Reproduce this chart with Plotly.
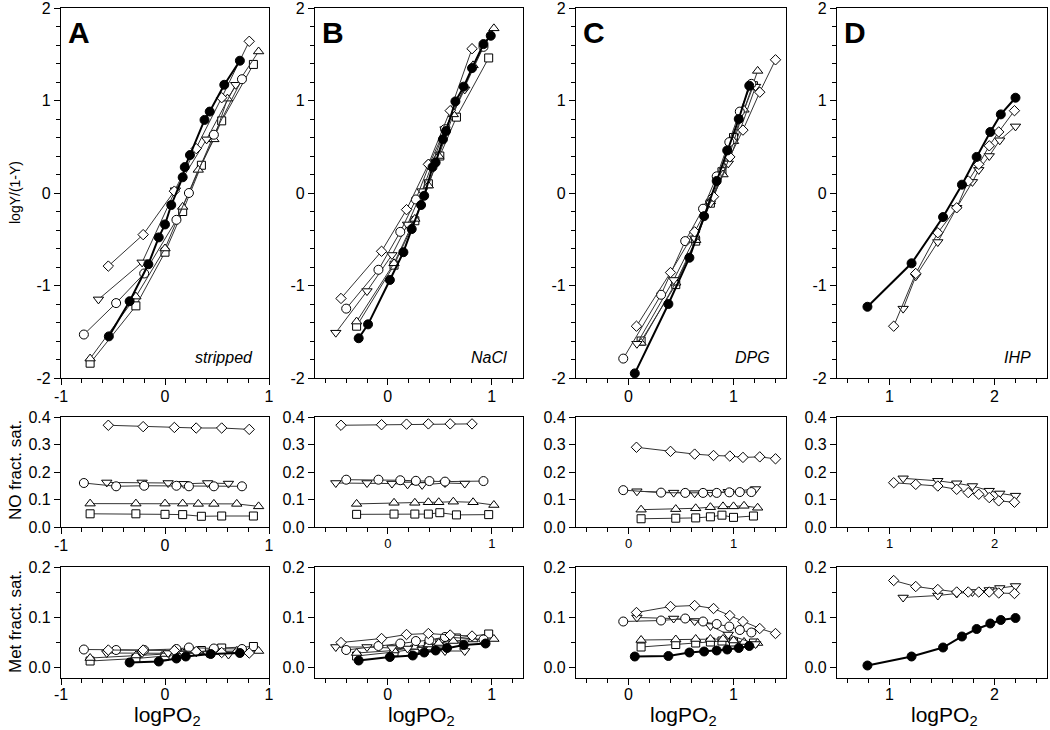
import plotly.graph_objects as go

# ---------------- Panel A (stripped) ----------------
A_FC_HILL_X = [-0.54, -0.34, -0.16, -0.06, 0.0, 0.06, 0.17, 0.19, 0.24, 0.38, 0.43, 0.57, 0.72]
A_FC_HILL_Y = [-1.55, -1.17, -0.77, -0.48, -0.34, -0.13, 0.17, 0.28, 0.41, 0.79, 0.88, 1.17, 1.43]
A_FC_MET_X = [-0.34, -0.06, 0.11, 0.20, 0.44, 0.72]
A_FC_MET_Y = [0.009, 0.011, 0.017, 0.021, 0.026, 0.028]
A_OC_X = [-0.78, -0.47, -0.20, 0.11, 0.23, 0.47, 0.74]
A_OC_HILL = [-1.53, -1.19, -0.87, -0.29, 0.0, 0.63, 1.23]
A_OC_NO = [0.16, 0.148, 0.15, 0.15, 0.148, 0.148, 0.148]
A_OC_MET = [0.035, 0.034, 0.034, 0.036, 0.039, 0.037, 0.036]
A_DIA_X = [-0.545, -0.21, 0.09, 0.30, 0.545, 0.81]
A_DIA_HILL = [-0.79, -0.45, 0.02, 0.48, 1.03, 1.64]
A_DIA_NO = [0.37, 0.365, 0.362, 0.36, 0.36, 0.355]
A_DIA_MET = [0.034, 0.034, 0.033, 0.031, 0.029, 0.028]
A_TD_HILL_X = [-0.64, -0.22, 0.10, 0.40, 0.68]
A_TD_HILL_Y = [-1.15, -0.75, 0.03, 0.58, 1.17]
A_TD_X = [-0.56, -0.22, 0.03, 0.18, 0.41, 0.61]
A_TD_NO = [0.162, 0.162, 0.16, 0.157, 0.16, 0.158]
A_TD_MET = [0.028, 0.028, 0.028, 0.027, 0.027, 0.025]
A_TU_HILL_X = [-0.72, -0.28, 0.0, 0.17, 0.32, 0.47, 0.60, 0.90]
A_TU_HILL_Y = [-1.79, -1.12, -0.60, -0.15, 0.25, 0.58, 1.02, 1.53]
A_TU_X = [-0.72, -0.28, 0.0, 0.17, 0.32, 0.47, 0.69, 0.90]
A_TU_NO = [0.085, 0.085, 0.085, 0.085, 0.084, 0.084, 0.084, 0.075]
A_TU_MET = [0.018, 0.023, 0.026, 0.028, 0.030, 0.031, 0.032, 0.032]
A_SQ_X = [-0.72, -0.28, 0.0, 0.17, 0.35, 0.545, 0.85]
A_SQ_HILL = [-1.84, -1.22, -0.64, -0.20, 0.30, 0.78, 1.39]
A_SQ_NO = [0.048, 0.048, 0.046, 0.045, 0.039, 0.040, 0.040]
A_SQ_MET = [0.012, 0.017, 0.022, 0.027, 0.033, 0.038, 0.041]

# ---------------- Panel B (NaCl) ----------------
B_FC_HILL_X = [-0.28, -0.19, 0.02, 0.15, 0.23, 0.32, 0.35, 0.43, 0.46, 0.53, 0.56, 0.65, 0.73, 0.81, 0.92, 0.99]
B_FC_HILL_Y = [-1.57, -1.42, -0.94, -0.64, -0.39, -0.13, -0.03, 0.28, 0.33, 0.58, 0.67, 0.99, 1.15, 1.35, 1.61, 1.70]
B_FC_MET_X = [-0.28, 0.02, 0.24, 0.35, 0.46, 0.57, 0.73, 0.94]
B_FC_MET_Y = [0.013, 0.020, 0.023, 0.029, 0.033, 0.038, 0.044, 0.047]
B_DIA_X = [-0.45, -0.06, 0.18, 0.39, 0.60, 0.81]
B_DIA_HILL = [-1.14, -0.63, -0.18, 0.31, 0.89, 1.56]
B_DIA_NO = [0.370, 0.372, 0.374, 0.375, 0.375, 0.375]
B_DIA_MET = [0.049, 0.057, 0.065, 0.067, 0.064, 0.062]
B_OC_X = [-0.40, -0.09, 0.12, 0.27, 0.40, 0.55, 0.92]
B_OC_HILL = [-1.25, -0.83, -0.42, -0.07, 0.31, 0.69, 1.58]
B_OC_NO = [0.172, 0.172, 0.170, 0.168, 0.167, 0.165, 0.167]
B_OC_MET = [0.034, 0.042, 0.047, 0.052, 0.054, 0.060, 0.055]
B_TD_X = [-0.50, -0.20, 0.04, 0.19, 0.33, 0.55, 0.74]
B_TD_HILL = [-1.51, -1.06, -0.67, -0.34, 0.02, 0.69, 1.12]
B_TD_NO = [0.160, 0.160, 0.158, 0.155, 0.153, 0.160, 0.158]
B_TD_MET = [0.040, 0.040, 0.038, 0.037, 0.035, 0.032, 0.032]
B_TU_X = [-0.30, 0.06, 0.26, 0.39, 0.49, 0.63, 0.82, 1.02]
B_TU_HILL = [-1.39, -0.76, -0.28, 0.08, 0.40, 0.85, 1.38, 1.78]
B_TU_NO = [0.084, 0.088, 0.088, 0.090, 0.090, 0.092, 0.090, 0.080]
B_TU_MET = [0.028, 0.033, 0.040, 0.045, 0.048, 0.052, 0.055, 0.056]
B_SQ_X = [-0.30, 0.06, 0.26, 0.39, 0.50, 0.66, 0.97]
B_SQ_HILL = [-1.44, -0.78, -0.30, 0.10, 0.40, 0.82, 1.46]
B_SQ_NO = [0.046, 0.047, 0.047, 0.047, 0.052, 0.044, 0.045]
B_SQ_MET = [0.022, 0.030, 0.036, 0.042, 0.048, 0.058, 0.066]

# ---------------- Panel C (DPG) ----------------
C_FC_X = [0.06, 0.38, 0.58, 0.72, 0.84, 0.94, 1.05, 1.15]
C_FC_HILL = [-1.95, -1.20, -0.70, -0.25, 0.13, 0.46, 0.80, 1.16]
C_FC_MET = [0.021, 0.022, 0.029, 0.031, 0.033, 0.035, 0.038, 0.042]
C_DIA_X = [0.076, 0.40, 0.63, 0.81, 0.965, 1.09, 1.25, 1.40]
C_DIA_HILL = [-1.44, -0.86, -0.42, -0.04, 0.39, 0.68, 1.09, 1.44]
C_DIA_NO = [0.290, 0.275, 0.265, 0.260, 0.258, 0.253, 0.255, 0.248]
C_DIA_MET = [0.109, 0.121, 0.123, 0.117, 0.103, 0.091, 0.077, 0.067]
C_OC_X = [-0.05, 0.31, 0.54, 0.71, 0.84, 0.96, 1.06, 1.17]
C_OC_HILL = [-1.79, -1.10, -0.52, -0.17, 0.18, 0.55, 0.88, 1.18]
C_OC_NO = [0.134, 0.125, 0.124, 0.124, 0.124, 0.126, 0.127, 0.127]
C_OC_MET = [0.091, 0.093, 0.097, 0.091, 0.086, 0.081, 0.074, 0.069]
C_TD_X = [0.08, 0.43, 0.63, 0.78, 0.95, 1.21]
C_TD_HILL = [-1.63, -0.94, -0.49, -0.11, 0.32, 1.15]
C_TD_NO = [0.130, 0.125, 0.123, 0.125, 0.128, 0.138]
C_TD_MET = [0.099, 0.097, 0.092, 0.082, 0.065, 0.046]
C_TU_X = [0.12, 0.45, 0.64, 0.78, 0.90, 1.00, 1.10, 1.23]
C_TU_HILL = [-1.62, -0.97, -0.51, -0.09, 0.20, 0.56, 0.90, 1.32]
C_TU_NO = [0.063, 0.065, 0.068, 0.072, 0.075, 0.075, 0.077, 0.070]
C_TU_MET = [0.054, 0.055, 0.056, 0.056, 0.056, 0.053, 0.050, 0.048]
C_SQ_X = [0.12, 0.45, 0.64, 0.78, 0.89, 1.00, 1.19]
C_SQ_HILL = [-1.60, -0.99, -0.52, -0.11, 0.23, 0.60, 1.16]
C_SQ_NO = [0.030, 0.032, 0.033, 0.037, 0.043, 0.035, 0.040]
C_SQ_MET = [0.040, 0.045, 0.048, 0.050, 0.052, 0.050, 0.048]

# ---------------- Panel D (IHP) ----------------
D_FC_X = [0.79, 1.21, 1.51, 1.69, 1.83, 1.96, 2.06, 2.20]
D_FC_HILL = [-1.23, -0.76, -0.26, 0.09, 0.39, 0.66, 0.85, 1.03]
D_FC_MET = [0.003, 0.021, 0.039, 0.061, 0.076, 0.087, 0.094, 0.098]
D_DIA_X = [1.04, 1.25, 1.46, 1.64, 1.75, 1.85, 1.95, 2.04, 2.19]
D_DIA_HILL = [-1.44, -0.87, -0.43, -0.16, 0.13, 0.31, 0.51, 0.66, 0.89]
D_DIA_NO = [0.161, 0.155, 0.149, 0.137, 0.125, 0.119, 0.107, 0.095, 0.090]
D_DIA_MET = [0.173, 0.161, 0.155, 0.150, 0.150, 0.150, 0.150, 0.148, 0.147]
D_TD_HILL_X = [1.13, 1.25, 1.46, 1.64, 1.79, 1.85, 1.95, 2.05, 2.20]
D_TD_HILL_Y = [-1.25, -0.90, -0.53, -0.16, 0.12, 0.25, 0.40, 0.57, 0.72]
D_TD_X = [1.13, 1.46, 1.64, 1.79, 1.95, 2.05, 2.20]
D_TD_NO = [0.177, 0.168, 0.159, 0.149, 0.132, 0.122, 0.114]
D_TD_MET = [0.139, 0.143, 0.147, 0.150, 0.154, 0.158, 0.162]

# ---------------- Axes / labels ----------------
PANEL_LETTERS = ["A", "B", "C", "D"]
CONDITIONS = ["stripped", "NaCl", "DPG", "IHP"]
X_RANGES = [[-1, 1], [-0.7, 1.3], [-0.5, 1.5], [0.5, 2.5]]
X_TICKS = [[-1, 0, 1], [0, 1], [0, 1], [1, 2]]
X_TICK_TEXT = [["-1", "0", "1"], ["0", "1"], ["0", "1"], ["1", "2"]]
HILL_TICKS = [-2, -1, 0, 1, 2]
HILL_TICK_TEXT = ["-2", "-1", "0", "1", "2"]
NO_TICKS = [0.0, 0.1, 0.2, 0.3, 0.4]
NO_TICK_TEXT = ["0.0", "0.1", "0.2", "0.3", "0.4"]
MET_TICKS = [0.0, 0.1, 0.2]
MET_TICK_TEXT = ["0.0", "0.1", "0.2"]
ROW_TITLES = ["logY/(1-Y)", "NO fract. sat.", "Met fract. sat."]
X_TITLE = "logPO<sub>2</sub>"

W, H = 1050, 730
PANEL_PX = [(61, 269), (315, 523), (576, 786), (837, 1047)]
ROW_PX = [(8, 378), (417, 527), (567, 678)]
Y_RANGES = [[-2, 2], [0, 0.4], [-0.022, 0.2]]
FONT = "Arial, Liberation Sans, sans-serif"

STYLES = {
    "sq": dict(symbol="square", size=8, fill="white", lw=1, lc="#333"),
    "tu": dict(symbol="triangle-up", size=9, fill="white", lw=1, lc="#333"),
    "td": dict(symbol="triangle-down", size=9, fill="white", lw=1, lc="#333"),
    "oc": dict(symbol="circle", size=9, fill="white", lw=1, lc="#333"),
    "dia": dict(symbol="diamond", size=8, fill="white", lw=1, lc="#333"),
    "fc": dict(symbol="circle", size=9, fill="black", lw=2, lc="black"),
}

# (panel, row, kind, x, y)
SERIES = [
    (0, 0, "sq", A_SQ_X, A_SQ_HILL), (0, 0, "tu", A_TU_HILL_X, A_TU_HILL_Y),
    (0, 0, "td", A_TD_HILL_X, A_TD_HILL_Y), (0, 0, "oc", A_OC_X, A_OC_HILL),
    (0, 0, "dia", A_DIA_X, A_DIA_HILL), (0, 0, "fc", A_FC_HILL_X, A_FC_HILL_Y),
    (0, 1, "sq", A_SQ_X, A_SQ_NO), (0, 1, "tu", A_TU_X, A_TU_NO),
    (0, 1, "td", A_TD_X, A_TD_NO), (0, 1, "oc", A_OC_X, A_OC_NO),
    (0, 1, "dia", A_DIA_X, A_DIA_NO),
    (0, 2, "sq", A_SQ_X, A_SQ_MET), (0, 2, "tu", A_TU_X, A_TU_MET),
    (0, 2, "td", A_TD_X, A_TD_MET), (0, 2, "oc", A_OC_X, A_OC_MET),
    (0, 2, "dia", A_DIA_X, A_DIA_MET), (0, 2, "fc", A_FC_MET_X, A_FC_MET_Y),

    (1, 0, "sq", B_SQ_X, B_SQ_HILL), (1, 0, "tu", B_TU_X, B_TU_HILL),
    (1, 0, "td", B_TD_X, B_TD_HILL), (1, 0, "oc", B_OC_X, B_OC_HILL),
    (1, 0, "dia", B_DIA_X, B_DIA_HILL), (1, 0, "fc", B_FC_HILL_X, B_FC_HILL_Y),
    (1, 1, "sq", B_SQ_X, B_SQ_NO), (1, 1, "tu", B_TU_X, B_TU_NO),
    (1, 1, "td", B_TD_X, B_TD_NO), (1, 1, "oc", B_OC_X, B_OC_NO),
    (1, 1, "dia", B_DIA_X, B_DIA_NO),
    (1, 2, "sq", B_SQ_X, B_SQ_MET), (1, 2, "tu", B_TU_X, B_TU_MET),
    (1, 2, "td", B_TD_X, B_TD_MET), (1, 2, "oc", B_OC_X, B_OC_MET),
    (1, 2, "dia", B_DIA_X, B_DIA_MET), (1, 2, "fc", B_FC_MET_X, B_FC_MET_Y),

    (2, 0, "sq", C_SQ_X, C_SQ_HILL), (2, 0, "tu", C_TU_X, C_TU_HILL),
    (2, 0, "td", C_TD_X, C_TD_HILL), (2, 0, "oc", C_OC_X, C_OC_HILL),
    (2, 0, "dia", C_DIA_X, C_DIA_HILL), (2, 0, "fc", C_FC_X, C_FC_HILL),
    (2, 1, "sq", C_SQ_X, C_SQ_NO), (2, 1, "tu", C_TU_X, C_TU_NO),
    (2, 1, "td", C_TD_X, C_TD_NO), (2, 1, "oc", C_OC_X, C_OC_NO),
    (2, 1, "dia", C_DIA_X, C_DIA_NO),
    (2, 2, "sq", C_SQ_X, C_SQ_MET), (2, 2, "tu", C_TU_X, C_TU_MET),
    (2, 2, "td", C_TD_X, C_TD_MET), (2, 2, "oc", C_OC_X, C_OC_MET),
    (2, 2, "dia", C_DIA_X, C_DIA_MET), (2, 2, "fc", C_FC_X, C_FC_MET),

    (3, 0, "td", D_TD_HILL_X, D_TD_HILL_Y), (3, 0, "dia", D_DIA_X, D_DIA_HILL),
    (3, 0, "fc", D_FC_X, D_FC_HILL),
    (3, 1, "td", D_TD_X, D_TD_NO), (3, 1, "dia", D_DIA_X, D_DIA_NO),
    (3, 2, "td", D_TD_X, D_TD_MET), (3, 2, "dia", D_DIA_X, D_DIA_MET),
    (3, 2, "fc", D_FC_X, D_FC_MET),
]

fig = go.Figure()


def ax_idx(panel, row):
    return row * 4 + panel + 1


for panel, row, kind, xs, ys in SERIES:
    st = STYLES[kind]
    i = ax_idx(panel, row)
    fig.add_trace(go.Scatter(
        x=xs, y=ys, mode="lines+markers",
        xaxis="x" if i == 1 else f"x{i}", yaxis="y" if i == 1 else f"y{i}",
        line=dict(color=st["lc"], width=st["lw"]),
        marker=dict(symbol=st["symbol"], size=st["size"], color=st["fill"],
                    line=dict(color="black", width=1)),
        showlegend=False, hoverinfo="skip", cliponaxis=False,
    ))

layout = dict(width=W, height=H, margin=dict(l=0, r=0, t=0, b=0, pad=0, autoexpand=False),
              paper_bgcolor="white", plot_bgcolor="white",
              font=dict(family=FONT, color="black"), showlegend=False)

y_ticks = [(HILL_TICKS, HILL_TICK_TEXT, 0.2), (NO_TICKS, NO_TICK_TEXT, None), (MET_TICKS, MET_TICK_TEXT, 0.05)]

for p in range(4):
    for r in range(3):
        i = ax_idx(p, r)
        xk = "xaxis" if i == 1 else f"xaxis{i}"
        yk = "yaxis" if i == 1 else f"yaxis{i}"
        x0, x1 = PANEL_PX[p]
        t0, t1 = ROW_PX[r]
        xfs = 13 if (r == 1 and p > 0) else 16
        layout[xk] = dict(
            domain=[x0 / W, x1 / W], range=X_RANGES[p],
            anchor="y" if i == 1 else f"y{i}",
            showline=True, mirror=True, linecolor="black", linewidth=1.3,
            ticks="outside", ticklen=6, tickwidth=1.2, tickcolor="black",
            tickmode="array", tickvals=X_TICKS[p], ticktext=X_TICK_TEXT[p],
            minor=dict(dtick=0.2, tick0=0, ticks="outside", ticklen=4, tickwidth=1, tickcolor="black"),
            showgrid=False, zeroline=False, automargin=False,
            ticklabelstandoff=-4 if r == 2 else -2,
            tickfont=dict(size=xfs, family=FONT),
        )
        tv, tt, mn = y_ticks[r]
        ya = dict(
            domain=[1 - t1 / H, 1 - t0 / H], range=Y_RANGES[r],
            anchor="x" if i == 1 else f"x{i}",
            showline=True, mirror=True, linecolor="black", linewidth=1.3,
            ticks="outside", ticklen=6, tickwidth=1.2, tickcolor="black",
            tickmode="array", tickvals=tv, ticktext=tt,
            showgrid=False, zeroline=False, automargin=False,
            ticklabeloverflow="allow",
            tickfont=dict(size=16, family=FONT),
        )
        if mn:
            ya["minor"] = dict(dtick=mn, tick0=0, ticks="outside", ticklen=4, tickwidth=1, tickcolor="black")
        layout[yk] = ya

annotations = []
for p in range(4):
    x0, x1 = PANEL_PX[p]
    annotations.append(dict(text=f"<b>{PANEL_LETTERS[p]}</b>", x=(x0 + 5) / W, y=1 - 14 / H,
                            xref="paper", yref="paper", xanchor="left", yanchor="top",
                            showarrow=False, font=dict(size=30, family=FONT)))
    annotations.append(dict(text=f"<i>{CONDITIONS[p]}</i>", x=(x1 - 14) / W, y=1 - 357 / H,
                            xref="paper", yref="paper", xanchor="right", yanchor="middle",
                            showarrow=False, font=dict(size=16, family=FONT)))
    annotations.append(dict(text=X_TITLE, x=((x0 + x1) / 2 + 2) / W, y=1 - 716 / H,
                            xref="paper", yref="paper", xanchor="center", yanchor="middle",
                            showarrow=False, font=dict(size=21, family=FONT)))

for title, cy, fs in zip(ROW_TITLES, [193, 470, 622], [14, 17, 17]):
    annotations.append(dict(text=title, x=15 / W, y=1 - cy / H, xref="paper", yref="paper",
                            xanchor="center", yanchor="middle", textangle=-90,
                            showarrow=False, font=dict(size=fs, family=FONT)))

layout["annotations"] = annotations
fig.update_layout(**layout)
fig.write_html("out.html", config={"displayModeBar": False},
               post_script="document.body.style.margin='0';document.body.style.overflow='hidden';")
